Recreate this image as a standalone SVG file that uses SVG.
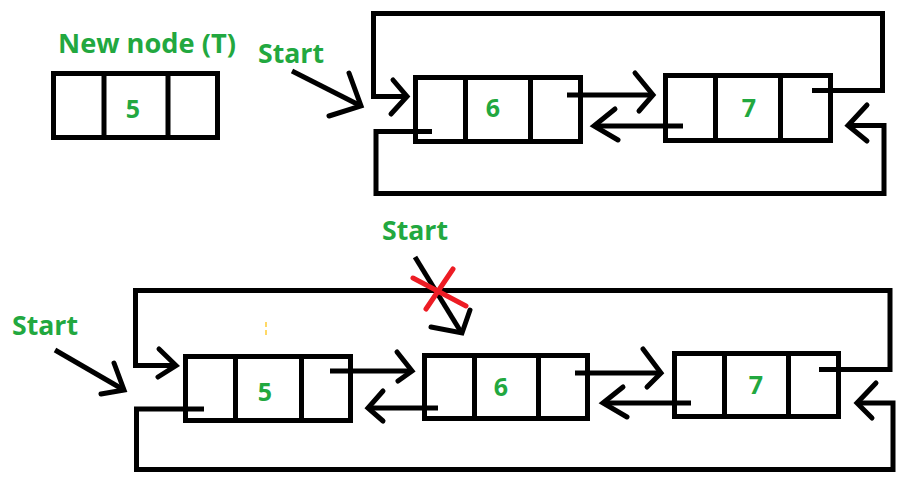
<svg xmlns="http://www.w3.org/2000/svg" width="900" height="480" viewBox="0 0 900 480">
<style>
.box{fill:none;stroke:#000;stroke-width:5}
.ln{fill:none;stroke:#000;stroke-width:5;stroke-linejoin:miter}
.ah{fill:none;stroke:#000;stroke-width:5;stroke-linecap:round;stroke-linejoin:miter}
.lbl{font-family:"Open Sans","Liberation Sans",sans-serif;font-weight:bold;fill:#22A83F}
.val{font-family:"Open Sans","Liberation Sans",sans-serif;font-weight:bold;fill:#22A83F;font-size:25px;text-anchor:middle}
.x{fill:none;stroke:#ED1C24;stroke-width:5;stroke-linecap:round}
</style>
<rect width="900" height="480" fill="#fff"/>
<text class="lbl" x="58" y="53" font-size="26" textLength="178" lengthAdjust="spacingAndGlyphs">New node (T)</text>
<text class="lbl" x="258" y="63" font-size="26" textLength="66" lengthAdjust="spacingAndGlyphs">Start</text>
<text class="lbl" x="382" y="240" font-size="26" textLength="66" lengthAdjust="spacingAndGlyphs">Start</text>
<text class="lbl" x="12" y="335" font-size="26" textLength="66" lengthAdjust="spacingAndGlyphs">Start</text>
<rect x="265" y="322" width="2" height="5" fill="#FFD966"/>
<rect x="265" y="330" width="2" height="5" fill="#FFD966"/>

<g id="nodeT5">
<rect class="box" x="53.5" y="73.5" width="164" height="64"/>
<line class="ln" x1="104" y1="73.5" x2="104" y2="137.5"/>
<line class="ln" x1="168" y1="73.5" x2="168" y2="137.5"/>
<text class="val" x="133" y="118">5</text>
</g>
<g id="nodeA6">
<rect class="box" x="415.5" y="77.5" width="165" height="64"/>
<line class="ln" x1="465.5" y1="77.5" x2="465.5" y2="141.5"/>
<line class="ln" x1="530.5" y1="77.5" x2="530.5" y2="141.5"/>
<text class="val" x="493" y="117">6</text>
</g>
<g id="nodeA7">
<rect class="box" x="665.5" y="75.5" width="165" height="65"/>
<line class="ln" x1="715.5" y1="75.5" x2="715.5" y2="140.5"/>
<line class="ln" x1="780.5" y1="75.5" x2="780.5" y2="140.5"/>
<text class="val" x="749" y="117">7</text>
</g>
<g id="nodeB5">
<rect class="box" x="185.5" y="356.5" width="165" height="64"/>
<line class="ln" x1="235.5" y1="356.5" x2="235.5" y2="420.5"/>
<line class="ln" x1="301.5" y1="356.5" x2="301.5" y2="420.5"/>
<text class="val" x="265" y="401">5</text>
</g>
<g id="nodeB6">
<rect class="box" x="424.5" y="355.5" width="163" height="63"/>
<line class="ln" x1="474.5" y1="355.5" x2="474.5" y2="418.5"/>
<line class="ln" x1="538.5" y1="355.5" x2="538.5" y2="418.5"/>
<text class="val" x="501" y="396">6</text>
</g>
<g id="nodeB7">
<rect class="box" x="674.5" y="353.5" width="164" height="63"/>
<line class="ln" x1="724.5" y1="353.5" x2="724.5" y2="416.5"/>
<line class="ln" x1="788.5" y1="353.5" x2="788.5" y2="416.5"/>
<text class="val" x="756" y="394">7</text>
</g>

<g id="connectors">
<line class="ln" x1="292" y1="71" x2="361" y2="106"/>
<polyline class="ah" points="349,73 361,106 329,116"/>
<polyline class="ln" points="812,90.5 882.5,90.5 882.5,13.5 373.5,13.5 373.5,96.5 406,96.5"/>
<polyline class="ah" points="393,80 407,96.5 391,114"/>
<line class="ln" x1="567" y1="95" x2="652" y2="95"/>
<polyline class="ah" points="635,73 653,95 639,111"/>
<line class="ln" x1="683" y1="126" x2="595" y2="126"/>
<polyline class="ah" points="615,109 594,126 618,140"/>
<polyline class="ln" points="432,131.5 376,131.5 376,193.5 884,193.5 884,125.5 849,125.5"/>
<polyline class="ah" points="867,105 848,125.5 867,141"/>

<line class="ln" x1="55" y1="350" x2="124" y2="390"/>
<polyline class="ah" points="114,363 124,390 101,394"/>
<polyline class="ln" points="819,369.5 890,369.5 890,290.5 135.5,290.5 135.5,365.5 175,365.5"/>
<polyline class="ah" points="159,349 176,365.5 158,377"/>
<polyline class="ln" points="204,409 136.5,409 136.5,469.5 893,469.5 893,403 858,403"/>
<polyline class="ah" points="876,383 857,403 872,418"/>
<line class="ln" x1="330" y1="371" x2="411" y2="371"/>
<polyline class="ah" points="397,352 412,371 398,381"/>
<line class="ln" x1="438" y1="408" x2="369" y2="408"/>
<polyline class="ah" points="383,391 368,408 383,421"/>
<line class="ln" x1="575" y1="373" x2="660" y2="373"/>
<polyline class="ah" points="643,349 661,373 647,387"/>
<line class="ln" x1="691" y1="403" x2="604" y2="403"/>
<polyline class="ah" points="623,387 603,403 627,417"/>
<line class="ln" x1="415" y1="257" x2="461" y2="332"/>
<polyline class="ah" points="470,310 462,333 431,327"/>
</g>
<g id="cross">
<line class="x" x1="413" y1="278" x2="466" y2="306"/>
<line class="x" x1="453" y1="269" x2="426" y2="309"/>
</g>
</svg>
